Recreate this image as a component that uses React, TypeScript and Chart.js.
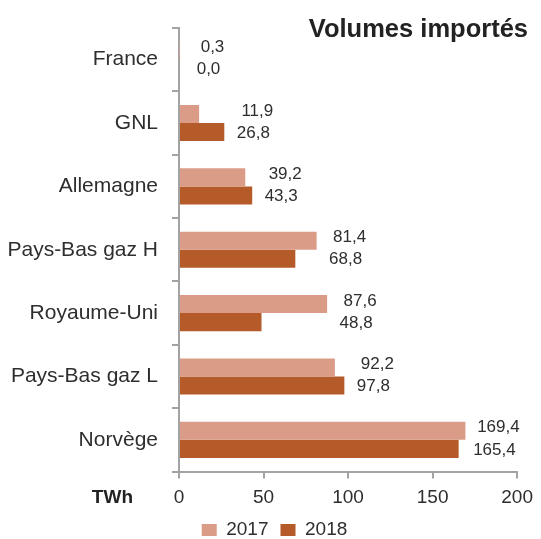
import { useEffect, useRef } from "react";
import { Chart, registerables } from "chart.js";

Chart.register(...registerables);

const categories = ["France", "GNL", "Allemagne", "Pays-Bas gaz H", "Royaume-Uni", "Pays-Bas gaz L", "Norvège"];
const values2017 = [0.3, 11.9, 39.2, 81.4, 87.6, 92.2, 169.4];
const values2018 = [0.0, 26.8, 43.3, 68.8, 48.8, 97.8, 165.4];
const seriesLabels = ["2017", "2018"];
const seriesColors = ["#DA9C86", "#B55A29"];
const xMin = 0;
const xMax = 200;
const xStep = 50;
const titleText = "Volumes importés";
const unitText = "TWh";

const FONT = '"Liberation Sans", Arial, sans-serif';
const TEXT = "#2E2E2E";
const AXIS = "#A3A3A3";

const fmt = (v: number) => v.toFixed(1).replace(".", ",");

const labelsPlugin = {
  id: "valueLabels",
  afterLayout(chart: any) {
    if (chart.legend) {
      chart.legend.left = 30;
    }
  },
  afterDatasetsDraw(chart: any) {
    const ctx = chart.ctx;
    const xScale = chart.scales.x;
    ctx.save();
    ctx.font = `17px ${FONT}`;
    ctx.fillStyle = TEXT;
    ctx.textAlign = "center";
    ctx.textBaseline = "middle";
    chart.data.datasets.forEach((ds: any, i: number) => {
      const meta = chart.getDatasetMeta(i);
      meta.data.forEach((bar: any, j: number) => {
        const m = Math.max(values2017[j], values2018[j]);
        const x = xScale.getPixelForValue(m) + (i === 0 ? 33 : 29);
        const y = bar.y + (i === 0 ? -3 : 1);
        ctx.fillText(fmt(ds.data[j]), x, y);
      });
    });
    ctx.restore();
  },
  afterDraw(chart: any) {
    const ctx = chart.ctx;
    const xScale = chart.scales.x;
    ctx.save();
    ctx.fillStyle = "#222222";
    ctx.font = `bold 25.5px ${FONT}`;
    ctx.textAlign = "right";
    ctx.textBaseline = "alphabetic";
    ctx.fillText(titleText, 528, 37);
    ctx.font = `bold 19px ${FONT}`;
    ctx.textAlign = "right";
    ctx.textBaseline = "middle";
    ctx.fillText(unitText, 133, xScale.top + 26);
    ctx.restore();
  },
};

export default function App() {
  const ref = useRef<HTMLCanvasElement | null>(null);
  useEffect(() => {
    if (!ref.current) return;
    const chart = new Chart(ref.current, {
      type: "bar",
      data: {
        labels: categories,
        datasets: [
          { label: seriesLabels[0], data: values2017, backgroundColor: seriesColors[0] },
          { label: seriesLabels[1], data: values2018, backgroundColor: seriesColors[1] },
        ],
      },
      options: {
        indexAxis: "y",
        animation: false,
        responsive: false,
        maintainAspectRatio: false,
        layout: { padding: { top: 28, right: 22, left: 0, bottom: 0 } },
        datasets: { bar: { barPercentage: 1, categoryPercentage: 0.57 } },
        scales: {
          x: {
            min: xMin,
            max: xMax,
            afterFit: (s: any) => { s.height = 37; },
            ticks: { stepSize: xStep, color: TEXT, font: { family: FONT, size: 19 }, padding: 8 },
            grid: { display: true, drawOnChartArea: false, tickLength: 7, color: AXIS, lineWidth: 2 },
            border: { display: true, color: AXIS, width: 2 },
          },
          y: {
            afterFit: (s: any) => { s.width = 179; },
            ticks: { color: TEXT, font: { family: FONT, size: 21 }, padding: 14 },
            grid: { display: true, drawOnChartArea: false, tickLength: 7, color: AXIS, lineWidth: 2, offset: true },
            border: { display: true, color: AXIS, width: 2 },
          },
        },
        plugins: {
          title: { display: false },
          tooltip: { enabled: false },
          legend: {
            display: true,
            position: "bottom",
            maxHeight: 30.5,
            labels: {
              boxWidth: 15,
              boxHeight: 12,
              color: TEXT,
              font: { family: FONT, size: 19 },
              padding: 12,
            },
          },
        },
      },
      plugins: [labelsPlugin],
    });
    return () => chart.destroy();
  }, []);
  return (
    <div style={{ position: "absolute", left: 0, top: 0, width: 541, height: 539, background: "#fff" }}>
      <canvas ref={ref} width={541} height={539} style={{ width: 541, height: 539 }} />
    </div>
  );
}
